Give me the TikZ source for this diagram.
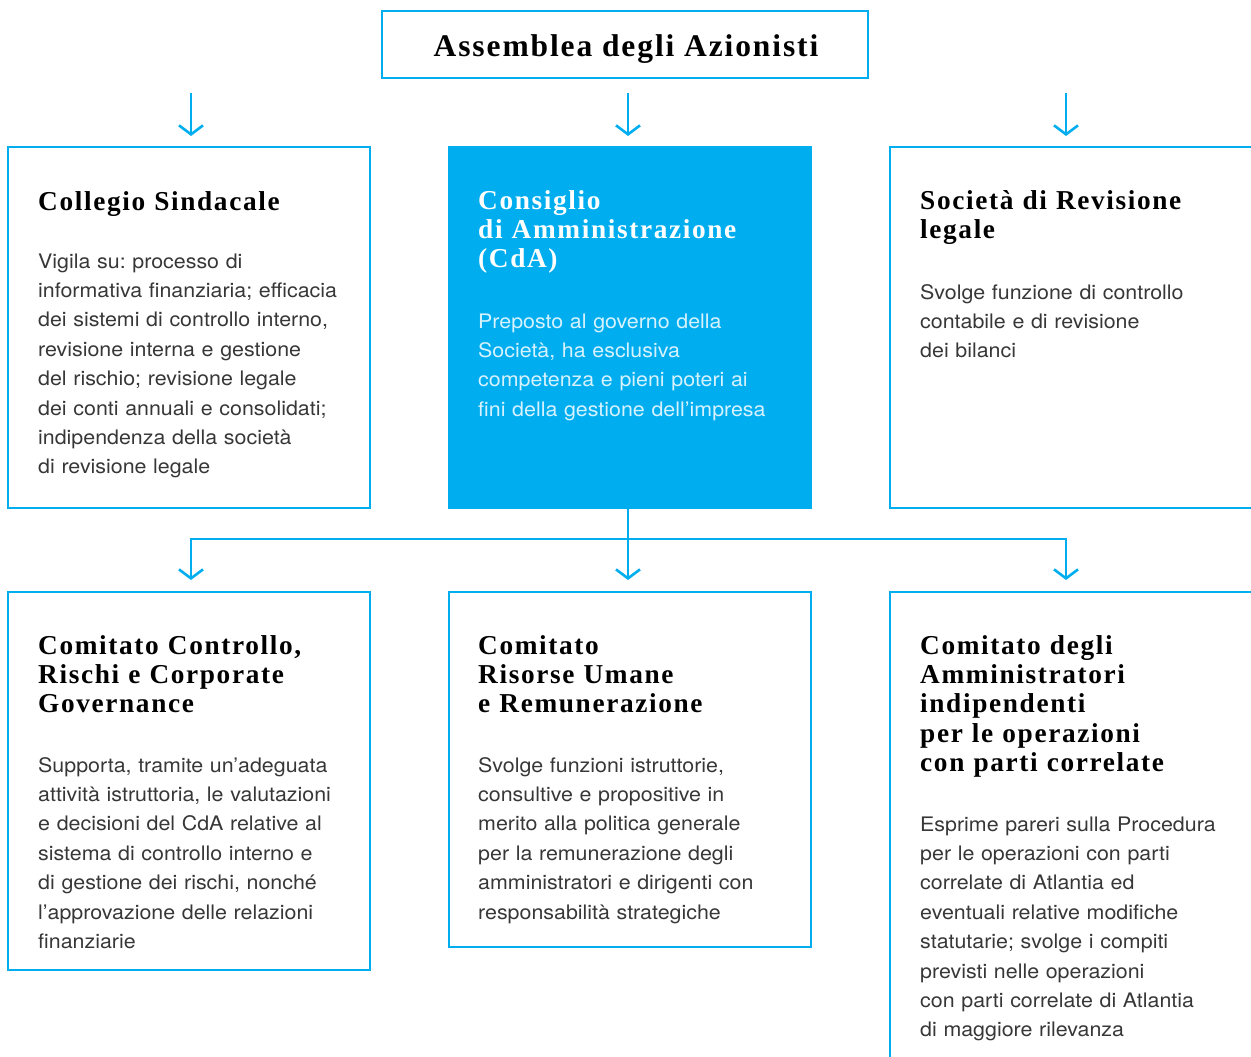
\documentclass[tikz,border=0pt]{standalone}
\usepackage{fontspec}
\usetikzlibrary{arrows.meta}
\newfontfamily\headfont[LetterSpace=6]{Liberation Serif}
\newfontfamily\bodyfont[FakeStretch=1.07]{TeX Gyre Heros}
\definecolor{cy}{RGB}{0,174,239}
\definecolor{bodygray}{RGB}{55,55,55}
\definecolor{lightcy}{RGB}{215,242,255}
\frenchspacing
\tikzset{
  box/.style={draw=cy, line width=2.6pt, minimum width=362pt, anchor=north west, inner sep=0pt, outer sep=0pt},
  fbox/.style={box, fill=cy},
  arr/.style={draw=cy, line width=2.6pt, -{Straight Barb[length=9pt,width=24pt,line width=2.6pt]}},
  head/.style={anchor=base west, inner sep=0pt, align=left, text width=340pt,
    font=\headfont\bfseries\fontsize{27.3}{29.4}\selectfont},
  body/.style={anchor=base west, inner sep=0pt, align=left, text width=340pt, text=bodygray,
    font=\bodyfont\fontsize{20}{29.4}\selectfont},
}
\begin{document}
\begin{tikzpicture}[x=1pt,y=-1pt]
\useasboundingbox (0,0) rectangle (1251,1057);
\clip (0,0) rectangle (1251,1057);
% top
\node[box, minimum width=486pt, minimum height=67pt] (top) at (382,11) {};
\node[anchor=base, inner sep=0pt, font=\headfont\bfseries\fontsize{31.5}{34}\selectfont] (toptxt) at (626,57) {Assemblea degli Azionisti};
% row 1
\node[box, minimum height=361pt] (col) at (8,147) {};
\node[fbox, minimum height=361pt] (cda) at (449,147) {};
\node[box, minimum height=361pt] (soc) at (890,147) {};
% row 2
\node[box, minimum height=378pt] (ccr) at (8,592) {};
\node[box, minimum height=355pt] (cru) at (449,592) {};
\node[box, minimum height=480pt] (cai) at (890,592) {};
% arrows from top
\coordinate (a1) at (191,93);
\coordinate (a2) at (628,93);
\coordinate (a3) at (1066,93);
\coordinate (e1) at (191,136);
\coordinate (e2) at (628,136);
\coordinate (e3) at (1066,136);
\draw[arr] (a1) -- (e1);
\draw[arr] (a2) -- (e2);
\draw[arr] (a3) -- (e3);
% lower connectors
\coordinate (hub) at (628,539);
\coordinate (d1) at (191,580);
\coordinate (d2) at (628,580);
\coordinate (d3) at (1066,580);
\draw[arr] (hub |- cda.south) -- (d2);
\draw[arr] (hub) -| (d1);
\draw[arr] (hub) -| (d3);
% texts
\node[head] (h1) at (38,210) {Collegio Sindacale};
\node[body] (b1) at (38,268) {Vigila su: processo di\\informativa finanziaria; efficacia\\dei sistemi di controllo interno,\\revisione interna e gestione\\del rischio; revisione legale\\dei conti annuali e consolidati;\\indipendenza della società\\di revisione legale};
\node[head, text=white] (h2) at (478,209) {Consiglio\\di Amministrazione\\(CdA)};
\node[body, text=lightcy] (b2) at (478,328) {Preposto al governo della\\Società, ha esclusiva\\competenza e pieni poteri ai\\fini della gestione dell’impresa};
\node[head] (h3) at (920,209) {Società di Revisione\\legale};
\node[body] (b3) at (920,299) {Svolge funzione di controllo\\contabile e di revisione\\dei bilanci};
\node[head] (h4) at (38,654) {Comitato Controllo,\\Rischi e Corporate\\Governance};
\node[body] (b4) at (38,772) {Supporta, tramite un’adeguata\\attività istruttoria, le valutazioni\\e decisioni del CdA relative al\\sistema di controllo interno e\\di gestione dei rischi, nonché\\l’approvazione delle relazioni\\finanziarie};
\node[head] (h5) at (478,654) {Comitato\\Risorse Umane\\e Remunerazione};
\node[body] (b5) at (478,772) {Svolge funzioni istruttorie,\\consultive e propositive in\\merito alla politica generale\\per la remunerazione degli\\amministratori e dirigenti con\\responsabilità strategiche};
\node[head] (h6) at (920,654) {Comitato degli\\Amministratori\\indipendenti\\per le operazioni\\con parti correlate};
\node[body] (b6) at (920,831) {Esprime pareri sulla Procedura\\per le operazioni con parti\\correlate di Atlantia ed\\eventuali relative modifiche\\statutarie; svolge i compiti\\previsti nelle operazioni\\con parti correlate di Atlantia\\di maggiore rilevanza};
\end{tikzpicture}
\end{document}
